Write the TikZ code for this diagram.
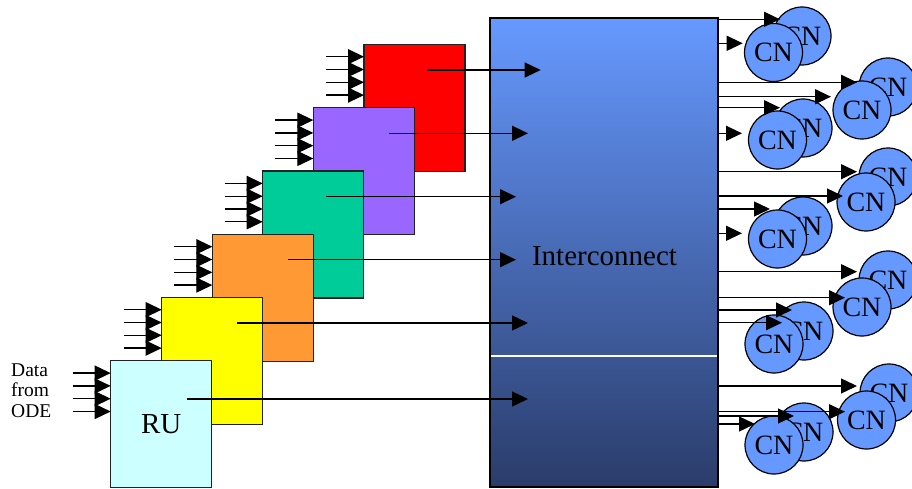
\documentclass[tikz,border=0pt]{standalone}
\usepackage{fontspec}
\setmainfont{Liberation Serif}
\usetikzlibrary{arrows.meta,calc}

\definecolor{ruc}{HTML}{CCFFFF}
\definecolor{yellowc}{HTML}{FFFF00}
\definecolor{orangec}{HTML}{FF9933}
\definecolor{greenc}{HTML}{00CC99}
\definecolor{purplec}{HTML}{9966FF}
\definecolor{redc}{HTML}{FF0000}
\definecolor{cnblue}{HTML}{6699FF}
\definecolor{ictop}{HTML}{6699FF}
\definecolor{icbot}{HTML}{2A3C6A}
\definecolor{boxline}{HTML}{222222}

\begin{document}
\begin{tikzpicture}[x=1pt,y=-1pt,
  unit/.style={draw=boxline,line width=1.5pt,minimum width=101pt,minimum height=127pt,
    inner sep=0pt,outer sep=0pt,anchor=north west},
  arr/.style={line width=1.3pt,-{Triangle[length=16pt,width=15pt]}},
  cn/.style={circle,draw=black,line width=1.2pt,fill=cnblue,minimum size=58pt,
    inner sep=0pt,font=\fontsize{28}{30}\selectfont},
]
\useasboundingbox (0,0) rectangle (912,489);

% reconfigurable units, back to front
\node[unit,fill=redc]    (red)    at (364,44.3)    {};
\node[unit,fill=purplec] (purple) at (313.3,107.7) {};
\node[unit,fill=greenc]  (green)  at (262.7,171)   {};
\node[unit,fill=orangec] (orange) at (212.3,234.3) {};
\node[unit,fill=yellowc] (yellow) at (161.7,297.3) {};
\node[unit,fill=ruc,font=\fontsize{29}{32}\selectfont] (ru) at (110.7,360.7) {RU};

% four input lines into each unit
\foreach \b in {red,purple,green,orange,yellow,ru}
  \foreach \k in {0,...,3}
    \draw[arr] ($(\b.north west)+(-38,12.4+12.8*\k)$) -- ($(\b.north west)+(0,12.4+12.8*\k)$);

\node[anchor=west,align=left,inner sep=0pt,font=\fontsize{19.5}{20.5}\selectfont] (src) at (11,390.5) {Data\\from\\ODE};

% interconnect
\node[draw=black,line width=1.5pt,top color=ictop,bottom color=icbot,
  minimum width=228pt,minimum height=469pt,inner sep=0pt,outer sep=0pt,anchor=north west] (ic) at (490,18) {};
\coordinate (split) at (0,356);
\draw[white,line width=1.2pt,shorten <=0.8pt,shorten >=0.8pt] (ic.west |- split) -- (ic.east |- split);
\node[font=\fontsize{29}{32}\selectfont] (iclabel) at (604.5,256) {Interconnect};

% unit outputs into the interconnect
\coordinate (ored)    at ($(red.north west)+(62.7,25.7)$);
\coordinate (opurple) at ($(purple.north west)+(75.7,25.6)$);
\coordinate (ogreen)  at ($(green.north west)+(63.3,25.7)$);
\coordinate (oorange) at ($(orange.north west)+(75.7,25.4)$);
\coordinate (oyellow) at ($(yellow.north west)+(75.6,25.7)$);
\coordinate (oru)     at ($(ru.north west)+(76,38.3)$);
\draw[arr] (ored)    -- ([xshift=50.7pt]ic.west |- ored);
\draw[arr] (opurple) -- ([xshift=38pt]ic.west |- opurple);
\draw[arr] (ogreen)  -- ([xshift=26pt]ic.west |- ogreen);
\draw[arr] (oorange) -- ([xshift=26pt]ic.west |- oorange);
\draw[arr] (oyellow) -- ([xshift=38pt]ic.west |- oyellow);
\draw[arr] (oru)     -- ([xshift=38pt]ic.west |- oru);

% compute nodes, in pairs
\node[cn] (g1b) at (802,36)    {CN};
\node[cn] (g1f) at (773.5,52.5) {CN};
\node[cn] (r1b) at (888,87)    {CN};
\node[cn] (r1f) at (862,110)   {CN};
\node[cn] (g2b) at (803,128)   {CN};
\node[cn] (g2f) at (777.5,140) {CN};
\node[cn] (r2b) at (888,177)   {CN};
\node[cn] (r2f) at (866,202)   {CN};
\node[cn] (g3b) at (803,226)   {CN};
\node[cn] (g3f) at (777.5,239) {CN};
\node[cn] (r3b) at (888,280)   {CN};
\node[cn] (r3f) at (862,307)   {CN};
\node[cn] (g4b) at (804,331)   {CN};
\node[cn] (g4f) at (774,344)   {CN};
\node[cn] (r4b) at (889,393)   {CN};
\node[cn] (r4f) at (866.5,420) {CN};
\node[cn] (g5b) at (804,432)   {CN};
\node[cn] (g5f) at (774,445)   {CN};

% interconnect outputs to the compute nodes
\foreach \n/\x/\y in {t1/780/19.3, t2/742.7/43.3, t3/857/82.3, t4/831/96.7,
    t5/780/107.7, t6/742/133.3, t7/857/171.7, t8/843/196, t9/770/209,
    t10/742/233.3, t11/857/271.7, t12/845/297.7, t13/792/310, t14/782/322.7,
    t15/857/386, t16/845/411.7, t17/794/416, t18/755/424} {
  \coordinate (\n) at (\x,\y);
  \draw[arr] (ic.east |- \n) -- (\n);
}
\end{tikzpicture}
\end{document}
